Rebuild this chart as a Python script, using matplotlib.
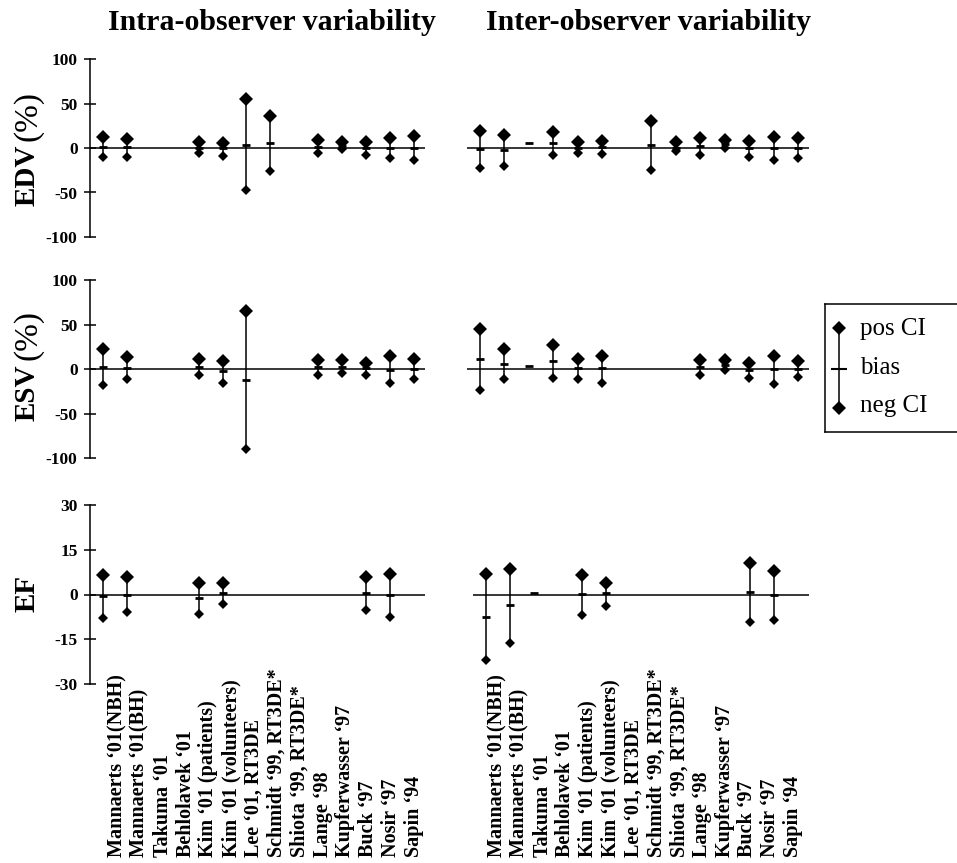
import matplotlib
matplotlib.use("Agg")
import matplotlib.pyplot as plt
import numpy as np

nan = np.nan

studies = ["Mannaerts \u201801(NBH)", "Mannaerts \u201801(BH)", "Takuma \u201801", "Behlolavek \u201801",
           "Kim \u201801 (patients)", "Kim \u201801 (volunteers)", "Lee \u201801, RT3DE",
           "Schmidt \u201899, RT3DE*", "Shiota \u201899, RT3DE*", "Lange \u201898",
           "Kupferwasser \u201897", "Buck \u201897", "Nosir \u201897", "Sapin \u201894"]

# intra-observer
edv_intra_pos = [12.7, 10.4, nan, nan, 6.3, 6.0, 55, 36, nan, 8.6, 6.3, 7.0, 10.8, 13]
edv_intra_bias = [1.5, 1.0, nan, nan, 0, -0.5, 3.7, 5.2, nan, 1.5, 2.0, 0, 0, -0.5]
edv_intra_neg = [-10, -9.7, nan, nan, -6, -9, -47.4, -25.4, nan, -6, -1, -7.5, -10.8, -14]

esv_intra_pos = [22, 13, nan, nan, 11.6, 9, 65, nan, nan, 10, 10, 6.4, 14.3, 11.3]
esv_intra_bias = [2.6, 0.7, nan, nan, 2.2, -2.6, -12.4, nan, nan, 1.9, 2.6, 0.7, -1, 0]
esv_intra_neg = [-17.6, -11.6, nan, nan, -6.4, -15.4, -90, nan, nan, -7, -4, -7, -15.4, -11.3]

ef_intra_pos = [6.6, 5.7, nan, nan, 3.7, 3.9, nan, nan, nan, nan, nan, 5.7, 6.9, nan]
ef_intra_bias = [-0.6, -0.2, nan, nan, -1.3, 0.6, nan, nan, nan, nan, nan, 0.4, -0.3, nan]
ef_intra_neg = [-8, -5.9, nan, nan, -6.7, -3.1, nan, nan, nan, nan, nan, -5.1, -7.7, nan]

# inter-observer
edv_inter_pos = [19.4, 15, nan, 18, 6.3, 8.2, nan, 30, 6.7, 10.8, 9, 8.2, 12.3, 10.8]
edv_inter_bias = [-1.5, -2, 5.6, 5.6, 0.4, 1, nan, 3.4, 0.4, 1.9, 4, -0.4, -0.4, 0]
edv_inter_neg = [-23, -20, nan, -7.5, -6, -7, nan, -25, -3.7, -8.2, 0.4, -10, -13.8, -11]

esv_inter_pos = [44.6, 22.5, nan, 27.4, 10.9, 15, nan, nan, nan, 10.5, 9.8, 7.1, 15, 9]
esv_inter_bias = [11.3, 5.6, 3.4, 8.6, 0.7, 0.7, nan, nan, nan, 1.9, 4.5, -1.5, -0.4, 0]
esv_inter_neg = [-23.6, -11.3, nan, -10.5, -11.3, -15.8, nan, nan, nan, -6.8, -0.7, -10.1, -16.5, -9.4]

ef_inter_pos = [7, 8.6, nan, nan, 6.7, 4, nan, nan, nan, nan, nan, 10.7, 7.9, nan]
ef_inter_bias = [-7.4, -3.6, 0.4, nan, 0.1, 0.4, nan, nan, nan, nan, nan, 0.8, -0.2, nan]
ef_inter_neg = [-21.8, -16.1, nan, nan, -6.8, -3.8, nan, nan, nan, nan, nan, -9.3, -8.6, nan]

plt.rcParams['font.family'] = ['Liberation Serif', 'DejaVu Serif']

W, H = 957, 863
fig = plt.figure(figsize=(W / 100, H / 100), dpi=100)


def box(x0, x1, ytop, ybot):
    return [x0 / W, 1 - ybot / H, (x1 - x0) / W, (ybot - ytop) / H]


def draw(ax, pos, bias, neg, ylim, ticks, show_axis):
    x = np.arange(len(studies))
    pos, bias, neg = np.array(pos), np.array(bias), np.array(neg)
    ax.vlines(x, neg, pos, color='black', lw=1.1)
    ax.plot(x, pos, 'D', color='black', ms=7, mew=0)
    ax.plot(x, neg, 'D', color='black', ms=5.5, mew=0)
    ax.plot(x, bias, '_', color='black', ms=6, mew=2)
    ax.axhline(0, color='black', lw=1.1)
    ax.set_xlim(-0.53, 13.45)
    ax.set_ylim(-ylim, ylim)
    ax.set_xticks([])
    for s in ['top', 'right', 'bottom']:
        ax.spines[s].set_visible(False)
    if show_axis:
        ax.spines['left'].set_linewidth(1.1)
        ax.set_yticks(ticks)
        ax.set_yticklabels([str(t) for t in ticks], fontsize=12.5, fontweight='bold')
        ax.tick_params(axis='y', direction='inout', length=8, width=1.1, pad=5)
    else:
        ax.spines['left'].set_visible(False)
        ax.set_yticks([])


rows = [
    (59, 237, 100, [-100, -50, 0, 50, 100],
     (edv_intra_pos, edv_intra_bias, edv_intra_neg), (edv_inter_pos, edv_inter_bias, edv_inter_neg), 467),
    (280, 458, 100, [-100, -50, 0, 50, 100],
     (esv_intra_pos, esv_intra_bias, esv_intra_neg), (esv_inter_pos, esv_inter_bias, esv_inter_neg), 467),
    (505, 684, 30, [-30, -15, 0, 15, 30],
     (ef_intra_pos, ef_intra_bias, ef_intra_neg), (ef_inter_pos, ef_inter_bias, ef_inter_neg), 473),
]

for ytop, ybot, lim, ticks, intra, inter, rx in rows:
    axl = fig.add_axes(box(90, 425, ytop, ybot))
    draw(axl, *intra, lim, ticks, True)
    axr = fig.add_axes(box(rx, 809, ytop, ybot))
    draw(axr, *inter, lim, ticks, False)

# titles
fig.text(272 / W, 1 - 22 / H, "Intra-observer variability", ha='center', va='center',
         fontsize=21.5, fontweight='bold')
fig.text(648 / W, 1 - 22 / H, "Inter-observer variability", ha='center', va='center',
         fontsize=21.5, fontweight='bold')

# y labels
for name, yc, yp in [("EDV", 175, 116), ("ESV", 393, 335), ("EF", 593, None)]:
    fig.text(27 / W, 1 - yc / H, name, rotation=90, ha='center', va='center',
             fontsize=21, fontweight='bold')
    if yp is not None:
        fig.text(28 / W, 1 - yp / H, "(%)", rotation=90, ha='center', va='center', fontsize=24)

# category labels
for xs in [np.linspace(117, 414, len(studies)), np.linspace(497, 793, len(studies))]:
    for xp, lab in zip(xs, studies):
        fig.text(xp / W, 1 - 857 / H, lab, rotation=90, ha='center', va='bottom',
                 fontsize=14.5, fontweight='bold')

# legend
lg = fig.add_axes(box(825, 990, 304, 432))
lg.set_xlim(825, 990)
lg.set_ylim(432, 304)
lg.set_xticks([])
lg.set_yticks([])
for s in lg.spines.values():
    s.set_linewidth(1.1)
lg.plot([839, 839], [328, 408], color='black', lw=1.1)
lg.plot([839], [328], 'D', color='black', ms=7, mew=0)
lg.plot([839], [408], 'D', color='black', ms=7, mew=0)
lg.plot([839], [369], '_', color='black', ms=12, mew=1.5)
lg.text(860, 329, "pos CI", va='center', ha='left', fontsize=18)
lg.text(860, 368, "bias", va='center', ha='left', fontsize=18)
lg.text(860, 406, "neg CI", va='center', ha='left', fontsize=18)

fig.savefig("out.png", dpi=100)
